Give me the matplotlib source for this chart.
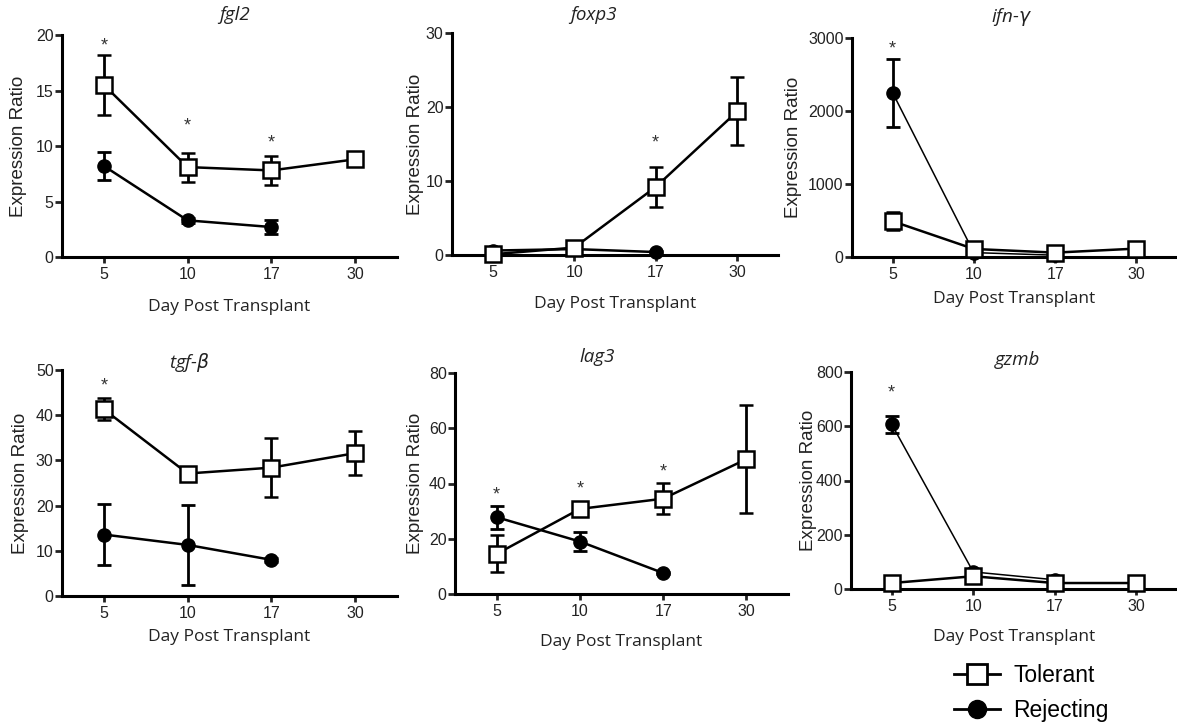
import numpy as np
import matplotlib.pyplot as plt
from matplotlib.lines import Line2D

plt.rcParams['font.family'] = ['Liberation Sans', 'DejaVu Sans']

# data
days = ["5", "10", "17", "30"]

fgl2_tol = [15.5, 8.1, 7.8, 8.8]
fgl2_tol_err = [2.7, 1.3, 1.3, 0]
fgl2_rej = [8.2, 3.3, 2.7]
fgl2_rej_err = [1.3, 0.2, 0.6]
fgl2_star = [(0, 19.0), (1, 11.8), (2, 10.3)]

foxp3_tol = [0.1, 1.0, 9.2, 19.4]
foxp3_tol_err = [0.2, 0.4, 2.7, 4.6]
foxp3_rej = [0.6, 0.8, 0.4]
foxp3_rej_err = [0.3, 0.3, 0.2]
foxp3_star = [(2, 15.2)]

ifng_tol = [490, 110, 60, 115]
ifng_tol_err = [120, 30, 20, 0]
ifng_rej = [2250, 60, 25]
ifng_rej_err = [465, 20, 10]
ifng_star = [(0, 2850)]

tgfb_tol = [41.3, 27.1, 28.4, 31.6]
tgfb_tol_err = [2.4, 1.0, 6.6, 4.8]
tgfb_rej = [13.6, 11.3, 8.0]
tgfb_rej_err = [6.8, 8.8, 0.5]
tgfb_star = [(0, 46.5)]

lag3_tol = [14.5, 30.8, 34.5, 48.8]
lag3_tol_err = [6.7, 1.5, 5.7, 19.5]
lag3_rej = [27.8, 19.0, 7.6]
lag3_rej_err = [4.2, 3.3, 0.5]
lag3_star = [(0, 36.0), (1, 38.0), (2, 44.3)]

gzmb_tol = [22, 47, 22, 22]
gzmb_tol_err = [5, 5, 5, 0]
gzmb_rej = [607, 63, 34]
gzmb_rej_err = [31, 10, 5]
gzmb_star = [(0, 722)]

W, H = 1177, 724
fig = plt.figure(figsize=(W / 100, H / 100), dpi=100)

# pixel boxes: left, right, top, bottom
panels = [
    dict(title="fgl2", box=(62, 397, 35, 257), ymax=20, step=5,
         tol=fgl2_tol, tol_err=fgl2_tol_err, rej=fgl2_rej, rej_err=fgl2_rej_err,
         star=fgl2_star, title_xy=(235, 15), ylab=-35, xlab=42, rej_lw=1.8),
    dict(title="foxp3", box=(452, 778, 33, 255), ymax=30, step=10,
         tol=foxp3_tol, tol_err=foxp3_tol_err, rej=foxp3_rej, rej_err=foxp3_rej_err,
         star=foxp3_star, title_xy=(593, 15), ylab=-28, xlab=41, rej_lw=1.8),
    dict(title="ifn-$\\gamma$", box=(852, 1177, 38, 257), ymax=3000, step=1000,
         tol=ifng_tol, tol_err=ifng_tol_err, rej=ifng_rej, rej_err=ifng_rej_err,
         star=ifng_star, title_xy=(1012, 17), ylab=-50, xlab=34, rej_lw=1.1),
    dict(title="tgf-$\\beta$", box=(62, 397, 370, 596), ymax=50, step=10,
         tol=tgfb_tol, tol_err=tgfb_tol_err, rej=tgfb_rej, rej_err=tgfb_rej_err,
         star=tgfb_star, title_xy=(190, 362), ylab=-33, xlab=33, rej_lw=1.8),
    dict(title="lag3", box=(455, 788, 373, 594), ymax=80, step=20,
         tol=lag3_tol, tol_err=lag3_tol_err, rej=lag3_rej, rej_err=lag3_rej_err,
         star=lag3_star, title_xy=(597, 357), ylab=-31, xlab=40, rej_lw=1.8),
    dict(title="gzmb", box=(851, 1177, 372, 589), ymax=800, step=200,
         tol=gzmb_tol, tol_err=gzmb_tol_err, rej=gzmb_rej, rej_err=gzmb_rej_err,
         star=gzmb_star, title_xy=(1018, 360), ylab=-34, xlab=40, rej_lw=1.1),
]

x = np.arange(len(days))

for p in panels:
    l, r, t, b = p["box"]
    ax = fig.add_axes([l / W, 1 - b / H, (r - l) / W, (b - t) / H])
    wpx, hpx = r - l, b - t

    nr = len(p["rej"])
    ax.errorbar(x[:nr], p["rej"], yerr=p["rej_err"], color="black", lw=p["rej_lw"],
                elinewidth=2, capsize=5, capthick=2, marker="o", ms=9.5,
                mfc="black", mec="black", clip_on=False, zorder=3)
    ax.errorbar(x, p["tol"], yerr=p["tol_err"], color="black", lw=1.8,
                elinewidth=2, capsize=5, capthick=2, marker="s", ms=11,
                mfc="white", mec="black", mew=1.8, clip_on=False, zorder=4)
    for i, yv in p["star"]:
        ax.text(x[i], yv, "*", ha="center", va="center", fontsize=13, color="#333333")

    ax.set_xlim(-0.5, 3.5)
    ax.set_ylim(0, p["ymax"])
    ax.set_yticks(np.arange(0, p["ymax"] + 1, p["step"]))
    ax.set_xticks(x)
    ax.set_xticklabels(days)
    for s in ["top", "right"]:
        ax.spines[s].set_visible(False)
    for s in ["left", "bottom"]:
        ax.spines[s].set_linewidth(2.2)
    ax.tick_params(axis="y", direction="out", length=5, width=2, labelsize=11.5, pad=1,
                   colors="#222222")
    ax.tick_params(axis="x", direction="out", length=4, width=2, labelsize=11.5, pad=3,
                   colors="#222222")

    ax.set_ylabel("Expression Ratio", fontsize=13.5, color="#222222")
    ax.yaxis.set_label_coords(p["ylab"] / wpx, 0.5)
    ax.set_xlabel("Day Post Transplant", fontsize=12.5, family=["Open Sans", "DejaVu Sans"],
                  color="#222222")
    ax.xaxis.set_label_coords(0.5, -p["xlab"] / hpx)

    tx, ty = p["title_xy"]
    ax.text((tx - l) / wpx, 1 + (t - ty) / hpx, p["title"], transform=ax.transAxes,
            ha="center", va="center", fontsize=13.5, style="italic",
            family=["Open Sans", "DejaVu Sans"], color="#222222")

handles = [
    Line2D([], [], color="black", lw=2, marker="s", ms=14, mfc="white", mec="black", mew=2),
    Line2D([], [], color="black", lw=2, marker="o", ms=13, mfc="black", mec="black"),
]
fig.legend(handles, ["Tolerant", "Rejecting"], loc="center left",
           bbox_to_anchor=(0.793, 0.043), frameon=False, fontsize=16.5,
           handlelength=2.0, labelspacing=0.5, handletextpad=0.6)

fig.savefig("out.png", dpi=100)
